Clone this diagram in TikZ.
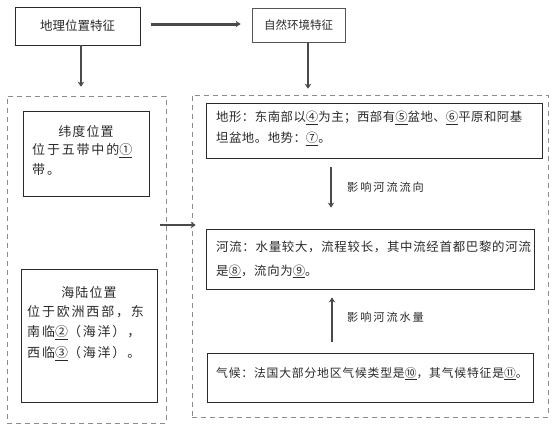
\documentclass[tikz,border=0pt]{standalone}
\usepackage{fontspec}
\setmainfont{Noto Sans CJK SC}
\usetikzlibrary{arrows.meta,calc}
\definecolor{ink}{HTML}{2A2A2A}
\definecolor{dashgray}{HTML}{8C8C8C}
\newcommand{\lsp}[1]{\addfontfeature{LetterSpace=#1}}
\tikzset{
  solidbox/.style={draw=ink, line width=0.9pt, rectangle, inner sep=0pt, text=ink},
  dashbox/.style={draw=dashgray, dashed, dash pattern=on 5pt off 4pt, line width=0.6pt, rectangle, inner sep=0pt},
  thickarrow/.style={draw=ink!85, line width=2.6pt, -{Stealth[length=5pt,width=6.5pt]}},
  lbl/.style={text=ink, font=\fontsize{11.2}{13}\selectfont\lsp{17}, anchor=west, inner sep=0pt},
  txt/.style={text=ink, align=left, anchor=north west, inner sep=0pt},
}
\begin{document}
\begin{tikzpicture}[x=1pt,y=-1pt]
\useasboundingbox (0,0) rectangle (554,432);
% outer dashed groups
\node[dashbox, minimum width=159pt, minimum height=327pt] (ldash) at (86.5,259.5) {};
\node[dashbox, minimum width=356pt, minimum height=322pt] (rdash) at (370,256) {};
% top boxes
\node[solidbox, minimum width=125pt, minimum height=38pt, font=\fontsize{12.5}{14}\selectfont] (geo) at (77.5,26) {地理位置特征};
\node[solidbox, draw=ink!80, line width=0.7pt, minimum width=93pt, minimum height=34pt, font=\fontsize{11.5}{14}\selectfont] (nat) at (298.5,25) {自然环境特征};
% left inner boxes
\node[solidbox, minimum width=126pt, minimum height=85pt] (lat) at (86,153.5) {};
\node[solidbox, minimum width=136pt, minimum height=133pt] (sea) at (89,335.5) {};
% right inner boxes
\node[solidbox, minimum width=336pt, minimum height=55pt] (terr) at (374,130.5) {};
\node[solidbox, minimum width=328pt, minimum height=60pt] (river) at (370,259) {};
\node[solidbox, minimum width=326pt, minimum height=49pt] (clim) at (370,377.5) {};
% texts in left boxes
\node[text=ink, inner sep=0pt, font=\fontsize{13}{15}\selectfont\lsp{8}] (latt) at (86,132) {纬度位置};
\node[txt, font=\fontsize{13}{20}\selectfont\lsp{14}] (latb) at (32,143) {位于五带中的\underline{①}\\带。};
\node[text=ink, inner sep=0pt, font=\fontsize{13}{15}\selectfont\lsp{8}] (seat) at (89,292) {海陆位置};
\node[txt, font=\fontsize{13}{20.5}\selectfont\lsp{14}] (seab) at (27,305) {位于欧洲西部，东\\南临\underline{②}（海洋），\\西临\underline{③}（海洋）。};
% texts in right boxes
\node[txt, font=\fontsize{12.4}{21}\selectfont\lsp{4}] (terrt) at (216,111) {地形：东南部以\underline{④}为主；西部有\underline{⑤}盆地、\underline{⑥}平原和阿基\\坦盆地。地势：\underline{⑦}。};
\node[txt, font=\fontsize{12.4}{23.5}\selectfont\lsp{6}] (rivert) at (216,241) {河流：水量较大，流程较长，其中流经首都巴黎的河流\\是\underline{⑧}，流向为\underline{⑨}。};
\node[txt, font=\fontsize{11.8}{21}\selectfont\lsp{7}] (climt) at (216,367) {气候：法国大部分地区气候类型是\underline{⑩}，其气候特征是\underline{⑪}。};
% arrows
\draw[thickarrow, line width=3pt, shorten <=11pt, shorten >=11pt] (geo.east |- 0,24) -- (nat.west |- 0,24);
\draw[thickarrow, shorten >=9pt] ([xshift=3.5pt]geo.south) -- ([xshift=3.5pt]geo.south |- ldash.north);
\draw[thickarrow, shorten >=6pt] ([xshift=9.5pt]nat.south) -- ([xshift=9.5pt]nat.south |- rdash.north);
\draw[thickarrow, line width=2.4pt, shorten <=-6pt, shorten >=-4pt] (ldash.east |- 0,225) -- (rdash.west |- 0,225);
\draw[thickarrow, line width=2.2pt, shorten <=9pt, shorten >=21pt] (terr.south -| 331,0) -- (river.north -| 331,0);
\draw[thickarrow, line width=2.4pt, shorten <=11pt, shorten >=8pt] (clim.north -| 332,0) -- (river.south -| 332,0);
\node[lbl] (l1) at (347,187) {影响河流流向};
\node[lbl] (l2) at (347,317) {影响河流水量};
\end{tikzpicture}
\end{document}
